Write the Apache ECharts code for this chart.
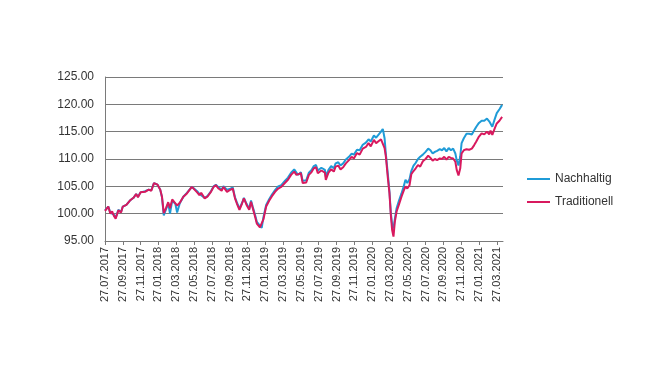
<!DOCTYPE html>
<html>
<head>
<meta charset="utf-8">
<script src="https://cdn.jsdelivr.net/npm/echarts@6/dist/echarts.min.js"></script>
<style>
  html, body { margin: 0; padding: 0; background: #fff; }
  #chart { width: 670px; height: 377px; }
</style>
</head>
<body>
<div id="chart"></div>
<script>
// Monate seit 27.07.2017
var monate = [
  0.0, 0.37, 0.6, 0.8, 1.0, 1.2, 1.5, 1.8, 2.0, 2.4, 2.8, 3.2, 3.5, 3.7, 4.0, 4.5, 4.9, 5.2, 5.5, 5.6,
  5.9, 6.2, 6.4, 6.6, 6.85, 7.1, 7.3, 7.55, 7.9, 8.1, 8.4, 8.8, 9.2, 9.75, 10.0, 10.35, 10.6, 10.8, 11.2, 11.5,
  11.9, 12.2, 12.45, 12.75, 13.1, 13.3, 13.7, 14.0, 14.35, 14.6, 14.8, 15.1, 15.4, 15.6, 15.9, 16.2, 16.4, 16.6, 16.85, 17.05,
  17.4, 17.6, 17.8, 18.1, 18.45, 18.75, 19.1, 19.45, 19.8, 20.2, 20.55, 20.9, 21.25, 21.5, 21.7, 22.0, 22.2, 22.6, 22.9, 23.2,
  23.45, 23.7, 23.9, 24.3, 24.7, 24.8, 25.1, 25.4, 25.7, 25.9, 26.2, 26.45, 26.75, 27.05, 27.4, 27.7, 27.95, 28.3, 28.6, 28.95,
  29.3, 29.6, 29.85, 30.2, 30.45, 30.75, 31.0, 31.2, 31.4, 31.55, 31.75, 31.95, 32.1, 32.25, 32.4, 32.55, 32.75, 33.0, 33.3, 33.55,
  33.75, 33.95, 34.2, 34.4, 34.65, 34.9, 35.15, 35.4, 35.7, 36.0, 36.3, 36.55, 36.8, 37.05, 37.3, 37.6, 37.85, 38.1, 38.35, 38.6,
  38.85, 39.1, 39.35, 39.5, 39.7, 39.9, 40.05, 40.3, 40.6, 40.9, 41.2, 41.45, 41.7, 42.0, 42.3, 42.6, 42.9, 43.15, 43.3, 43.5,
  43.75, 44.0, 44.3, 44.6
];

var traditionell = [
  100.5, 101.3, 100.0, 100.4, 99.6, 99.1, 100.6, 100.2, 101.3, 101.6, 102.4, 102.9, 103.6, 103.0, 103.9, 104.0, 104.4, 104.2, 105.6, 105.9,
  105.3, 104.4, 103.1, 100.1, 101.0, 102.1, 101.0, 102.6, 101.9, 101.5, 102.0, 103.1, 103.7, 104.9, 104.5, 103.9, 103.4, 103.8, 102.8, 103.1,
  104.0, 104.9, 105.2, 104.6, 104.2, 104.9, 104.0, 104.3, 104.6, 102.8, 101.9, 100.7, 101.9, 102.8, 101.6, 100.7, 102.2, 101.0, 99.5, 98.2,
  97.5, 97.2, 99.0, 101.3, 102.4, 103.2, 104.0, 104.6, 104.9, 105.6, 106.2, 107.1, 107.7, 107.1, 106.8, 107.4, 105.6, 105.7, 107.1, 107.6,
  108.3, 108.5, 107.4, 107.9, 107.5, 106.2, 107.5, 108.1, 107.7, 108.6, 108.8, 108.1, 108.5, 109.2, 109.8, 110.4, 110.1, 111.1, 110.8, 111.9,
  112.2, 112.9, 112.3, 113.5, 112.9, 113.3, 113.6, 113.9, 112.0, 110.4, 106.8, 103.7, 99.8, 97.0, 95.8, 98.5, 100.4, 101.6, 103.1, 104.2,
  105.0, 104.6, 105.2, 107.2, 107.8, 108.3, 108.9, 108.6, 109.6, 110.0, 110.6, 110.2, 109.7, 110.0, 109.8, 110.1, 110.0, 110.4, 109.9, 110.4,
  110.2, 110.1, 109.5, 108.0, 107.0, 108.3, 111.0, 111.6, 111.8, 111.7, 111.9, 112.5, 113.2, 114.1, 114.7, 114.5, 115.0, 114.5, 115.2, 114.4,
  115.5, 116.5, 117.0, 117.7
];

var nachhaltig = [
  100.6, 101.3, 100.2, 100.4, 99.8, 99.3, 100.7, 100.3, 101.3, 101.6, 102.4, 102.9, 103.6, 103.1, 103.9, 104.1, 104.4, 104.3, 105.6, 105.9,
  105.3, 104.4, 103.0, 99.7, 100.8, 101.9, 100.0, 102.4, 101.8, 100.2, 101.9, 103.1, 103.8, 104.9, 104.6, 104.1, 103.6, 103.9, 102.9, 103.2,
  104.1, 105.0, 105.3, 104.8, 104.4, 105.0, 104.4, 104.5, 104.8, 103.0, 102.1, 100.9, 102.0, 102.9, 101.8, 100.9, 102.4, 101.2, 99.8, 98.5,
  97.8, 97.4, 99.4, 101.6, 102.7, 103.5, 104.3, 105.0, 105.2, 106.0, 106.6, 107.5, 108.1, 107.5, 107.1, 107.6, 106.0, 106.1, 107.5, 108.0,
  108.7, 108.9, 107.9, 108.4, 108.0, 106.8, 108.0, 108.7, 108.3, 109.2, 109.4, 108.8, 109.2, 109.9, 110.4, 111.0, 110.8, 111.7, 111.6, 112.6,
  113.0, 113.6, 113.2, 114.3, 113.9, 114.5, 115.0, 115.5, 113.8, 110.8, 107.5, 104.0, 100.2, 98.0, 97.3, 99.0, 101.0, 102.3, 103.7, 105.0,
  106.2, 105.6, 106.3, 107.8, 108.8, 109.3, 110.0, 110.4, 110.8, 111.3, 111.9, 111.6, 111.0, 111.3, 111.5, 111.8, 111.6, 112.0, 111.4, 112.0,
  111.6, 111.9, 111.0, 109.8, 108.8, 110.5, 112.9, 113.8, 114.6, 114.6, 114.5, 115.2, 115.9, 116.6, 117.0, 117.0, 117.4, 116.9, 117.2, 115.9,
  117.2, 118.4, 119.1, 119.9
];

var tickLabels = [
  '27.07.2017', '27.09.2017', '27.11.2017', '27.01.2018', '27.03.2018', '27.05.2018',
  '27.07.2018', '27.09.2018', '27.11.2018', '27.01.2019', '27.03.2019', '27.05.2019',
  '27.07.2019', '27.09.2019', '27.11.2019', '27.01.2020', '27.03.2020', '27.05.2020',
  '27.07.2020', '27.09.2020', '27.11.2020', '27.01.2021', '27.03.2021'
];

function paare(werte) {
  return werte.map(function (v, i) { return [monate[i], v]; });
}

var chart = echarts.init(document.getElementById('chart'));

var option = {
  animation: false,
  textStyle: { fontFamily: 'Liberation Sans, Arial, sans-serif' },
  grid: { left: 105, right: 167, top: 77, bottom: 136, containLabel: false },
  legend: {
    orient: 'vertical',
    left: 522,
    top: 168,
    itemWidth: 23,
    itemHeight: 2,
    itemGap: 11,
    icon: 'rect',
    textStyle: { fontSize: 12, color: '#333' },
    data: ['Nachhaltig', 'Traditionell']
  },
  xAxis: {
    type: 'value',
    min: 0,
    max: 44.7,
    interval: 2,
    axisLine: { show: true, lineStyle: { color: '#7a7a7a', width: 1 } },
    axisTick: { show: true, length: 4, lineStyle: { color: '#7a7a7a' } },
    splitLine: { show: false },
    axisLabel: {
      rotate: 90,
      fontSize: 11,
      color: '#333',
      margin: 6,
      formatter: function (v) {
        var i = Math.round(v / 2);
        return tickLabels[i] || '';
      }
    }
  },
  yAxis: {
    type: 'value',
    min: 95,
    max: 125,
    interval: 5,
    axisLine: { show: true, lineStyle: { color: '#7a7a7a', width: 1 } },
    axisTick: { show: false },
    splitLine: { show: true, lineStyle: { color: '#7a7a7a', width: 1.2 } },
    axisLabel: {
      fontSize: 12,
      color: '#333',
      margin: 11,
      formatter: function (v) { return v.toFixed(2); }
    }
  },
  series: [
    {
      name: 'Nachhaltig',
      type: 'line',
      data: paare(nachhaltig),
      showSymbol: false,
      lineStyle: { width: 2, color: '#1f9bd7' },
      itemStyle: { color: '#1f9bd7' }
    },
    {
      name: 'Traditionell',
      type: 'line',
      data: paare(traditionell),
      showSymbol: false,
      lineStyle: { width: 2, color: '#d8195e' },
      itemStyle: { color: '#d8195e' }
    }
  ]
};

chart.setOption(option);
</script>
</body>
</html>
